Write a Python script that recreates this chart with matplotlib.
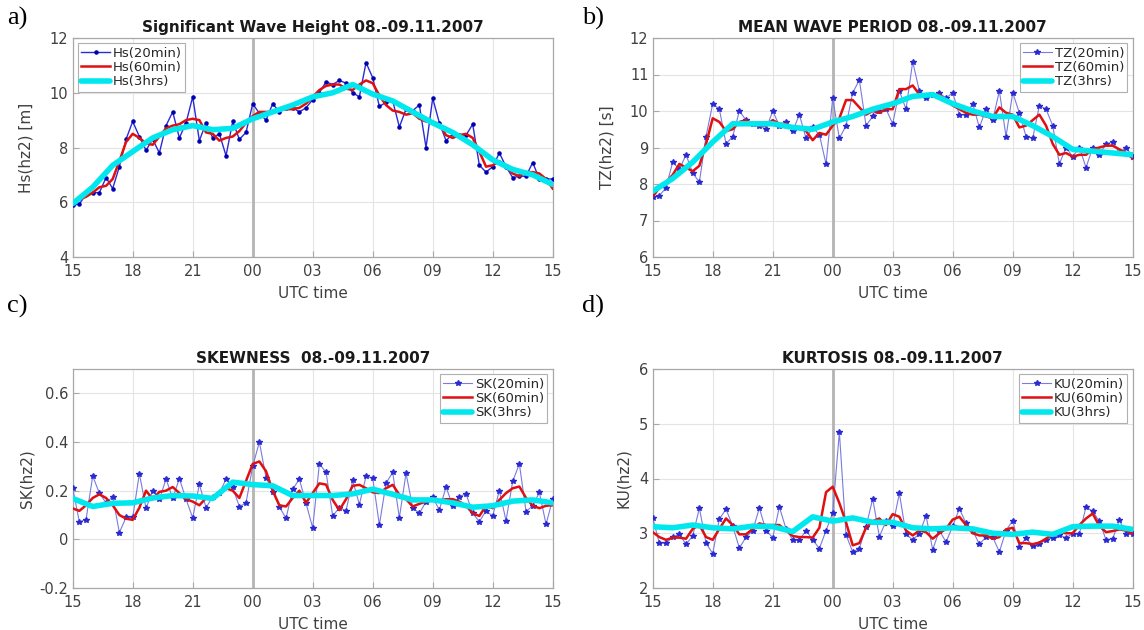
import numpy as np
import matplotlib
matplotlib.use("Agg")
import matplotlib.pyplot as plt

# ---------------- data ----------------
tick_pos = [0, 3, 6, 9, 12, 15, 18, 21, 24]
tick_labels = ["15", "18", "21", "00", "03", "06", "09", "12", "15"]
t20 = np.arange(73) / 3.0      # hours after 15 UTC, 20-min steps
t3h = np.arange(25)            # hourly samples of the 3-hr curve

hs_20 = [5.9, 5.93, 6.3, 6.35, 6.35, 6.9, 6.5, 7.3, 8.3, 8.95,
         8.4, 7.9, 8.3, 7.8, 8.8, 9.3, 8.35, 8.9, 9.85, 8.25,
         8.9, 8.35, 8.5, 7.7, 8.95, 8.3, 8.55, 9.6, 9.25, 9.0,
         9.6, 9.3, 9.45, 9.45, 9.3, 9.45, 9.75, 10.0, 10.4, 10.3,
         10.45, 10.35, 10.0, 9.85, 11.1, 10.55, 9.5, 9.65, 9.7, 8.75,
         9.4, 9.35, 9.55, 8.0, 9.8, 8.9, 8.25, 8.5, 8.45, 8.45,
         8.85, 7.35, 7.1, 7.3, 7.8, 7.3, 6.9, 6.95, 6.95, 7.45,
         6.85, 6.85, 6.85]
hs_60 = [5.95, 6.1, 6.2, 6.35, 6.55, 6.6, 6.85, 7.5, 8.2, 8.5,
         8.35, 8.15, 8.1, 8.4, 8.7, 8.8, 8.85, 9.0, 9.05, 9.0,
         8.55, 8.5, 8.25, 8.35, 8.4, 8.6, 8.9, 9.15, 9.3, 9.3,
         9.3, 9.4, 9.4, 9.4, 9.45, 9.6, 9.85, 10.1, 10.25, 10.3,
         10.3, 10.15, 10.1, 10.3, 10.45, 10.35, 9.9, 9.55, 9.35, 9.3,
         9.2, 9.25, 9.05, 8.95, 8.95, 8.85, 8.45, 8.35, 8.45, 8.5,
         8.35, 7.85, 7.3, 7.35, 7.5, 7.3, 7.05, 6.95, 7.1, 7.1,
         7.05, 6.85, 6.5]
hs_3h = [5.95, 6.55, 7.35, 7.85, 8.35, 8.65, 8.8, 8.65, 8.7, 9.05,
         9.3, 9.55, 9.85, 10.0, 10.3, 9.95, 9.7, 9.3, 8.9, 8.55,
         8.1, 7.55, 7.2, 7.0, 6.65]

tz_20 = [7.64, 7.68, 7.9, 8.6, 8.4, 8.8, 8.3, 8.05, 9.3, 10.2,
         10.05, 9.1, 9.3, 10.0, 9.75, 9.65, 9.6, 9.5, 10.0, 9.6,
         9.7, 9.45, 9.9, 9.25, 9.55, 9.35, 8.55, 10.35, 9.25, 9.6,
         10.5, 10.85, 9.6, 9.85, 10.0, 10.05, 9.65, 10.55, 10.05, 11.35,
         10.55, 10.35, 10.45, 10.5, 10.35, 10.5, 9.9, 9.9, 10.2, 9.55,
         10.05, 9.75, 10.55, 9.3, 10.5, 9.95, 9.3, 9.25, 10.15, 10.05,
         9.6, 8.55, 9.0, 8.75, 9.0, 8.45, 9.0, 8.8, 9.1, 9.15,
         8.85, 9.0, 8.75]
tz_60 = [7.65, 7.9, 8.05, 8.25, 8.55, 8.45, 8.35, 8.5, 9.1, 9.8,
         9.7, 9.45, 9.5, 9.7, 9.75, 9.65, 9.6, 9.6, 9.75, 9.65,
         9.65, 9.55, 9.55, 9.45, 9.2, 9.4, 9.35, 9.6, 9.8, 10.3,
         10.3, 10.1, 9.9, 10.0, 9.95, 10.05, 10.05, 10.6, 10.6, 10.7,
         10.45, 10.4, 10.45, 10.45, 10.3, 10.15, 10.05, 9.95, 9.9, 9.9,
         9.85, 9.8, 10.1, 9.95, 9.9, 9.55, 9.6, 9.75, 9.9, 9.6,
         9.1, 8.8, 8.85, 8.75, 8.8, 8.8, 8.95, 9.0, 9.05, 9.05,
         8.95, 8.85, 8.7]
tz_3h = [7.8, 8.15, 8.6, 9.15, 9.65, 9.65, 9.65, 9.55, 9.5, 9.7,
         9.85, 10.05, 10.2, 10.4, 10.45, 10.2, 10.0, 9.85, 9.85, 9.6,
         9.3, 8.95, 8.9, 8.85, 8.8]

sk_20 = [0.21, 0.072, 0.081, 0.26, 0.19, 0.15, 0.175, 0.028, 0.09, 0.09,
         0.27, 0.127, 0.2, 0.164, 0.248, 0.168, 0.25, 0.165, 0.088, 0.226,
         0.13, 0.175, 0.19, 0.247, 0.214, 0.134, 0.15, 0.3, 0.4, 0.254,
         0.196, 0.134, 0.086, 0.206, 0.247, 0.148, 0.047, 0.31, 0.276, 0.096,
         0.13, 0.118, 0.242, 0.143, 0.259, 0.252, 0.059, 0.231, 0.275, 0.089,
         0.272, 0.13, 0.107, 0.155, 0.172, 0.121, 0.215, 0.138, 0.176, 0.187,
         0.107, 0.073, 0.117, 0.096, 0.2, 0.077, 0.238, 0.31, 0.114, 0.138,
         0.193, 0.062, 0.165]
sk_60 = [0.127, 0.117, 0.14, 0.17, 0.185, 0.17, 0.14, 0.1, 0.085, 0.08,
         0.13, 0.2, 0.165, 0.195, 0.2, 0.215, 0.19, 0.165, 0.155, 0.14,
         0.17, 0.165, 0.195, 0.21, 0.2, 0.17, 0.24, 0.31, 0.32, 0.28,
         0.2, 0.14, 0.135, 0.17, 0.2, 0.15, 0.19, 0.23, 0.225, 0.162,
         0.12, 0.165, 0.22, 0.224, 0.21, 0.193, 0.19, 0.21, 0.224, 0.183,
         0.165, 0.135, 0.146, 0.155, 0.17, 0.16, 0.165, 0.165, 0.155, 0.138,
         0.107, 0.096, 0.138, 0.128, 0.162, 0.19, 0.21, 0.217, 0.17, 0.138,
         0.128, 0.138, 0.14]
sk_3h = [0.168, 0.135, 0.148, 0.15, 0.17, 0.18, 0.178, 0.168, 0.235, 0.225,
         0.22, 0.18, 0.18, 0.18, 0.187, 0.206, 0.185, 0.162, 0.162, 0.15,
         0.132, 0.138, 0.157, 0.162, 0.15]

ku_20 = [3.28, 2.82, 2.82, 2.93, 2.98, 2.8, 2.95, 3.46, 2.82, 2.63,
         3.26, 3.44, 3.13, 2.73, 2.93, 3.05, 3.46, 3.05, 2.92, 3.48,
         3.08, 2.88, 2.88, 3.05, 2.88, 2.72, 3.05, 3.37, 4.85, 2.97,
         2.66, 2.72, 3.12, 3.63, 2.94, 3.22, 3.13, 3.73, 2.98, 2.88,
         2.99, 3.32, 2.7, 3.05, 2.84, 3.13, 3.45, 3.18, 3.05, 2.8,
         2.93, 2.93, 2.66, 3.05, 3.23, 2.75, 2.92, 2.76, 2.81, 2.88,
         2.92, 2.96, 2.92, 2.99, 2.99, 3.48, 3.4, 3.22, 2.88, 2.9,
         3.24, 2.99, 2.98]
ku_60 = [3.02, 2.93, 2.88, 2.92, 2.92, 2.9, 3.08, 3.15, 2.93, 2.88,
         3.08, 3.27, 3.15, 2.98, 2.98, 3.08, 3.18, 3.15, 3.15, 3.15,
         3.05, 2.95, 2.93, 2.93, 2.92, 3.1, 3.75, 3.85, 3.55, 3.2,
         2.78, 2.82, 3.1, 3.22, 3.27, 3.15, 3.35, 3.3, 3.05, 2.96,
         3.05, 3.02, 2.9, 3.0, 3.08, 3.25, 3.3, 3.15, 3.0, 2.96,
         2.96, 2.9, 2.93, 3.07, 3.1, 2.82, 2.82, 2.8, 2.83, 2.9,
         2.98, 3.02, 3.0, 3.0, 3.15, 3.27, 3.36, 3.13, 3.02, 3.04,
         3.07, 3.05, 2.99]
ku_3h = [3.12, 3.1, 3.15, 3.1, 3.08, 3.13, 3.12, 3.03, 3.3, 3.22,
         3.28, 3.2, 3.2, 3.1, 3.08, 3.1, 3.08, 3.0, 2.98, 3.02,
         2.98, 3.12, 3.13, 3.13, 3.07]

panels = [
    dict(letter="a)", title="Significant Wave Height 08.-09.11.2007", ylabel="Hs(hz2) [m]",
         name="Hs", s20=hs_20, s60=hs_60, s3h=hs_3h, ylim=(4, 12), yticks=[4, 6, 8, 10, 12],
         ytl=["4", "6", "8", "10", "12"], loc="upper left", thin=False, ylpad=12),
    dict(letter="b)", title="MEAN WAVE PERIOD 08.-09.11.2007", ylabel="TZ(hz2) [s]",
         name="TZ", s20=tz_20, s60=tz_60, s3h=tz_3h, ylim=(6, 12), yticks=[6, 7, 8, 9, 10, 11, 12],
         ytl=["6", "7", "8", "9", "10", "11", "12"], loc="upper right", thin=True, ylpad=11),
    dict(letter="c)", title="SKEWNESS  08.-09.11.2007", ylabel="SK(hz2)",
         name="SK", s20=sk_20, s60=sk_60, s3h=sk_3h, ylim=(-0.2, 0.7), yticks=[-0.2, 0, 0.2, 0.4, 0.6],
         ytl=["-0.2", "0", "0.2", "0.4", "0.6"], loc="upper right", thin=True, ylpad=4),
    dict(letter="d)", title="KURTOSIS 08.-09.11.2007", ylabel="KU(hz2)",
         name="KU", s20=ku_20, s60=ku_60, s3h=ku_3h, ylim=(2, 6), yticks=[2, 3, 4, 5, 6],
         ytl=["2", "3", "4", "5", "6"], loc="upper right", thin=True, ylpad=6),
]

# ---------------- layout ----------------
W, H = 1144, 630
fig = plt.figure(figsize=(W / 100, H / 100), dpi=100)
boxes = [(72.7, 38, 480, 219), (652.7, 38, 480, 219),
         (72.7, 369, 480, 219), (652.7, 369, 480, 219)]
letter_pos = [(7, 18), (582, 18), (7, 306), (582, 306)]

txt = "#404040"
edge = "#a8a8a8"

for p, (l, t, w, h), (lx, ly) in zip(panels, boxes, letter_pos):
    ax = fig.add_axes([l / W, 1 - (t + h) / H, w / W, h / H])
    ax.set_xlim(0, 24)
    ax.set_ylim(*p["ylim"])
    ax.set_xticks(tick_pos)
    ax.set_xticklabels(tick_labels)
    ax.set_yticks(p["yticks"])
    ax.set_yticklabels(p["ytl"])
    ax.grid(True, color="#e4e4e4", lw=0.8)
    ax.set_axisbelow(True)
    for s in ax.spines.values():
        s.set_color(edge)
        s.set_linewidth(0.9)
    ax.tick_params(direction="in", length=4, color=edge, labelcolor=txt,
                   labelsize=10.5)
    ax.tick_params(axis="x", pad=5)
    ax.tick_params(axis="y", pad=3)
    ax.axvline(9, color="#b4b4b4", lw=2, zorder=1.5)

    if p["thin"]:
        ax.plot(t20, p["s20"], color="#7a7ae0", lw=0.8, marker="*", ms=4.2,
                mfc="#2a2ad0", mec="#2a2ad0", label=p["name"] + "(20min)", zorder=3)
    else:
        ax.plot(t20, p["s20"], color="#2a2ad6", lw=1.0, marker=".", ms=4.5,
                mfc="#0000b0", mec="#0000b0", label=p["name"] + "(20min)", zorder=3)
    ax.plot(t20, p["s60"], color="#e01010", lw=1.8, label=p["name"] + "(60min)", zorder=4)
    ax.plot(t3h, p["s3h"], color="#00e8ee", lw=4, label=p["name"] + "(3hrs)",
            zorder=5, solid_capstyle="round", solid_joinstyle="round")

    leg = ax.legend(loc=p["loc"], fontsize=9.5, frameon=True, fancybox=False,
                    edgecolor="#b0b0b0", framealpha=1, handlelength=2.2,
                    borderpad=0.25, labelspacing=0.1, handletextpad=0.2,
                    borderaxespad=0.4)
    leg.get_frame().set_linewidth(0.8)
    for tx in leg.get_texts():
        tx.set_color("#262626")

    ax.set_title(p["title"], fontsize=11, fontweight="bold", pad=4, color="#1a1a1a")
    ax.set_xlabel("UTC time", fontsize=11, color=txt, labelpad=5)
    ax.set_ylabel(p["ylabel"], fontsize=11, color=txt, labelpad=p["ylpad"])

    fig.text(lx / W, 1 - ly / H, p["letter"], fontsize=19,
             family="Liberation Serif", ha="left", va="center", color="black")

fig.savefig("out.png", dpi=100, facecolor="white")
